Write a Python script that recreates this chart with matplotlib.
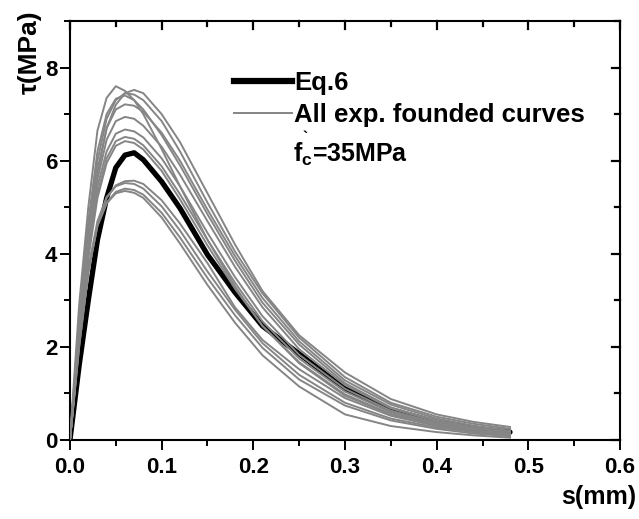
import matplotlib
matplotlib.use("Agg")
import matplotlib.pyplot as plt
import matplotlib.transforms as mtransforms
from matplotlib.lines import Line2D

plt.rcParams['font.family'] = ['Liberation Sans', 'DejaVu Sans']
plt.rcParams['font.weight'] = 'bold'
plt.rcParams['mathtext.fontset'] = 'custom'
plt.rcParams['mathtext.rm'] = 'Liberation Sans:bold'
plt.rcParams['mathtext.bf'] = 'Liberation Sans:bold'
plt.rcParams['mathtext.it'] = 'Liberation Sans:bold'

# slip values (mm) where the curves were read
s = [0, 0.01, 0.02, 0.03, 0.04, 0.05, 0.06, 0.07, 0.08, 0.10, 0.12,
     0.15, 0.18, 0.21, 0.25, 0.30, 0.35, 0.40, 0.44, 0.48]

# Eq.6 curve (MPa)
eq6 = [0, 1.6, 3.0, 4.3, 5.2, 5.85, 6.12, 6.17, 6.02, 5.55, 4.98,
       3.98, 3.17, 2.45, 1.85, 1.1, 0.65, 0.38, 0.25, 0.17]

# experimental curves (MPa)
exp_curves = [
    [0, 2.9, 5.0, 6.65, 7.35, 7.6, 7.5, 7.3, 7.0, 6.25, 5.45, 4.3, 3.3, 2.45, 1.65, 0.95, 0.55, 0.32, 0.2, 0.12],
    [0, 2.2, 4.2, 5.7, 6.7, 7.2, 7.45, 7.52, 7.45, 7.0, 6.4, 5.3, 4.2, 3.2, 2.25, 1.45, 0.88, 0.55, 0.39, 0.28],
    [0, 2.4, 4.5, 6.0, 6.9, 7.3, 7.45, 7.42, 7.3, 6.85, 6.2, 5.1, 4.05, 3.15, 2.2, 1.35, 0.8, 0.5, 0.35, 0.24],
    [0, 2.6, 4.7, 6.2, 7.0, 7.33, 7.4, 7.3, 7.1, 6.55, 5.9, 4.85, 3.85, 2.95, 2.05, 1.22, 0.7, 0.42, 0.28, 0.18],
    [0, 2.3, 4.3, 5.8, 6.7, 7.1, 7.21, 7.18, 7.05, 6.6, 6.0, 4.95, 3.95, 3.05, 2.12, 1.28, 0.76, 0.46, 0.31, 0.2],
    [0, 2.3, 4.2, 5.6, 6.45, 6.85, 6.94, 6.9, 6.75, 6.3, 5.7, 4.7, 3.72, 2.85, 1.95, 1.18, 0.68, 0.4, 0.26, 0.16],
    [0, 2.2, 4.1, 5.45, 6.2, 6.58, 6.67, 6.63, 6.5, 6.05, 5.45, 4.45, 3.5, 2.66, 1.83, 1.1, 0.63, 0.37, 0.24, 0.15],
    [0, 2.2, 4.0, 5.3, 6.05, 6.42, 6.51, 6.47, 6.33, 5.88, 5.28, 4.3, 3.38, 2.55, 1.75, 1.04, 0.6, 0.35, 0.22, 0.14],
    [0, 2.1, 3.9, 5.2, 5.95, 6.32, 6.42, 6.38, 6.24, 5.78, 5.17, 4.18, 3.25, 2.45, 1.67, 0.98, 0.56, 0.33, 0.21, 0.13],
    [0, 2.0, 3.6, 4.65, 5.2, 5.47, 5.56, 5.57, 5.5, 5.15, 4.65, 3.8, 2.85, 2.15, 1.52, 0.9, 0.52, 0.3, 0.19, 0.12],
    [0, 2.1, 3.7, 4.7, 5.22, 5.45, 5.52, 5.5, 5.4, 5.02, 4.5, 3.62, 2.8, 2.08, 1.4, 0.8, 0.46, 0.27, 0.17, 0.1],
    [0, 2.0, 3.6, 4.6, 5.1, 5.33, 5.4, 5.37, 5.27, 4.88, 4.35, 3.48, 2.68, 1.98, 1.3, 0.74, 0.42, 0.24, 0.14, 0.08],
    [0, 2.1, 3.65, 4.6, 5.08, 5.3, 5.35, 5.31, 5.2, 4.78, 4.22, 3.33, 2.52, 1.82, 1.15, 0.55, 0.3, 0.17, 0.1, 0.05],
]

xticks = [0, 0.1, 0.2, 0.3, 0.4, 0.5, 0.6]
xlabels = ['0.0', '0.1', '0.2', '0.3', '0.4', '0.5', '0.6']
xminor = [0.05, 0.15, 0.25, 0.35, 0.45, 0.55]
yticks = [0, 2, 4, 6, 8]
yminor = [1, 3, 5, 7, 9]

gray = '#858585'

fig = plt.figure(figsize=(6.39, 5.19), dpi=100)
ax = fig.add_axes([0.1095, 0.1522, 0.8608, 0.8073])

ax.plot(s, eq6, color='black', lw=3.8, solid_capstyle='round', zorder=2)
for c in exp_curves:
    ax.plot(s, c, color=gray, lw=1.4, zorder=3)

ax.set_xlim(0, 0.6)
ax.set_ylim(0, 9)
ax.set_xticks(xticks)
ax.set_xticklabels(xlabels)
ax.set_yticks(yticks)
ax.set_xticks(xminor, minor=True)
ax.set_yticks(yminor, minor=True)
ax.tick_params(which='both', direction='out', width=1.4)
ax.tick_params(which='major', length=7, labelsize=16)
ax.tick_params(which='minor', length=4)
ax.tick_params(axis='x', pad=5)
ax.tick_params(axis='y', pad=2)
for sp in ax.spines.values():
    sp.set_linewidth(1.5)

# inward ticks on the top and right edges
tr_top = mtransforms.blended_transform_factory(ax.transData, ax.transAxes)
tr_right = mtransforms.blended_transform_factory(ax.transAxes, ax.transData)
for xs, ln in ((xticks, 0.019), (xminor, 0.011)):
    for x in xs:
        ax.plot([x, x], [1, 1 - ln], color='black', lw=1.6, transform=tr_top,
                clip_on=False, zorder=5)
for ys, ln in ((yticks, 0.015), (yminor, 0.0085)):
    for y in ys:
        ax.plot([1, 1 - ln], [y, y], color='black', lw=1.6, transform=tr_right,
                clip_on=False, zorder=5)

fig.text(0.995, 0.043, 's(mm)', ha='right', va='center', fontsize=18, fontweight='bold')
fig.text(0.046, 0.90, 'τ(MPa)', rotation=90, ha='center', va='center', fontsize=19, fontweight='bold')

handles = [Line2D([], [], color='black', lw=4.5),
           Line2D([], [], color=gray, lw=1.4)]
ax.legend(handles, ['Eq.6', 'All exp. founded curves'], loc='upper left',
          bbox_to_anchor=(0.298, 0.881), frameon=False, prop={'size': 18.5, 'weight': 'bold'},
          handlelength=2.25, handletextpad=0.1, labelspacing=0.32,
          borderpad=0, borderaxespad=0)

ax.text(0.405, 0.6635, r'f$_{\mathbf{c}}$=35MPa', transform=ax.transAxes,
        fontsize=18, fontweight='bold', va='baseline')
ax.text(0.423, 0.712, '`', transform=ax.transAxes, fontsize=11, fontweight='bold', va='baseline')

fig.savefig('out.png', dpi=100)
